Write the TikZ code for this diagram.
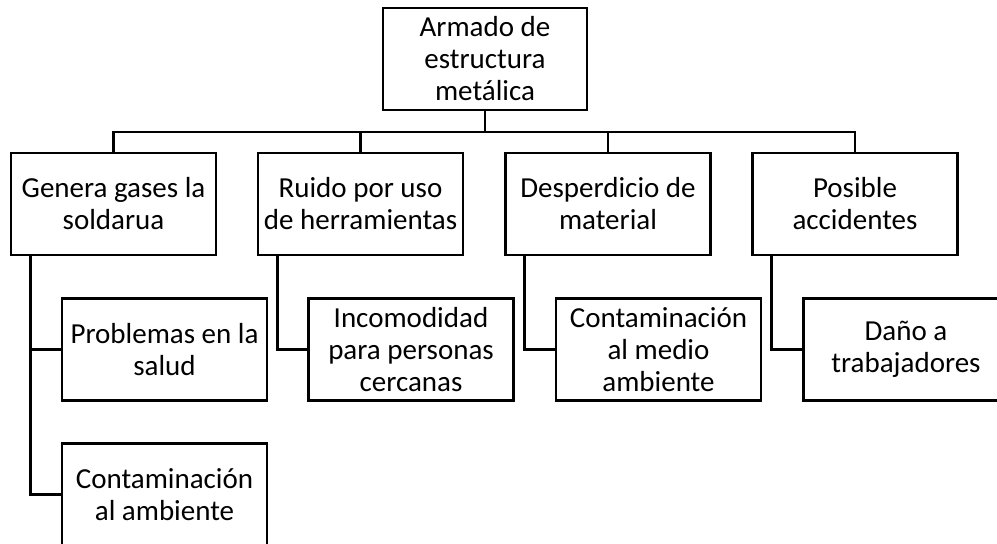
\documentclass[tikz,border=0pt]{standalone}
\usepackage{fontspec}
\setmainfont{Carlito}
\usetikzlibrary{positioning}

\begin{document}
\begin{tikzpicture}[x=1pt,y=-1pt,
    box/.style={draw,line width=2.7pt,minimum width=205pt,minimum height=102pt,
      inner sep=0pt,align=center,font=\fontsize{29}{32}\selectfont},
    link/.style={line width=2.7pt}]
    \useasboundingbox (0,0) rectangle (997,544);
    \clip (0,0) rectangle (997,544);
    % root
    \node[box,minimum width=204pt] (root) at (485,59) {Armado de\\estructura\\metálica};
    % first level
    \node[box] (gases) at (113.5,204) {Genera gases la\\soldarua};
    \node[box] (ruido) at (360.5,204) {Ruido por uso\\de herramientas};
    \node[box] (desp)  at (608,204)   {Desperdicio de\\material};
    \node[box] (acc)   at (855,204)   {Posible\\accidentes};
    % second level
    \node[box] (salud) at (164.5,349.5) {Problemas en la\\salud};
    \node[box] (amb)   at (164.5,494.5) {Contaminación\\al ambiente};
    \node[box] (incom) at (411,349.5)   {Incomodidad\\para personas\\cercanas};
    \node[box] (medio) at (658.5,349.5) {Contaminación\\al medio\\ambiente};
    \node[box] (dano)  at (906,349.5)   {Daño a\\trabajadores};
    % connectors
    \coordinate (bus) at (485,132);
    \draw[link] (root.south) -- (bus);
    \draw[link] (gases.north) -- (gases.north |- bus) -- (acc.north |- bus) -- (acc.north);
    \draw[link] (ruido.north) -- (ruido.north |- bus);
    \draw[link] (desp.north) -- (desp.north |- bus);
    \draw[link] ([xshift=21pt]gases.south west) |- (salud.west);
    \draw[link] ([xshift=21pt]gases.south west) |- (amb.west);
    \draw[link] ([xshift=21pt]ruido.south west) |- (incom.west);
    \draw[link] ([xshift=20pt]desp.south west) |- (medio.west);
    \draw[link] ([xshift=20pt]acc.south west) |- (dano.west);
  \end{tikzpicture}
\end{document}
